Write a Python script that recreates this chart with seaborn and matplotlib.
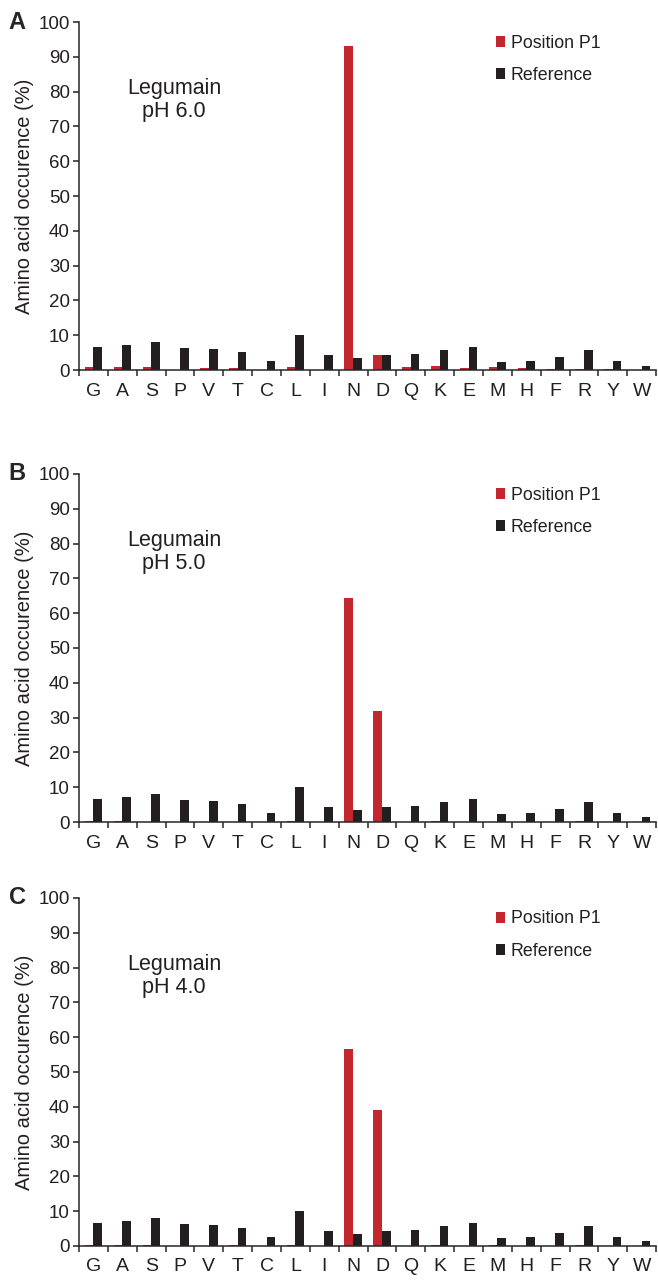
import numpy as np
import pandas as pd
import matplotlib
matplotlib.use("Agg")
import matplotlib.pyplot as plt
import seaborn as sns

# Datos (porcentaje de ocurrencia por aminoacido)
aminoacidos = ['G', 'A', 'S', 'P', 'V', 'T', 'C', 'L', 'I', 'N',
               'D', 'Q', 'K', 'E', 'M', 'H', 'F', 'R', 'Y', 'W']

referencia = [6.7, 7.1, 8.0, 6.3, 6.0, 5.3, 2.5, 10.0, 4.2, 3.4,
              4.4, 4.6, 5.7, 6.7, 2.2, 2.5, 3.7, 5.8, 2.6, 1.3]

p1_ph6 = [1.0, 0.9, 0.9, 0.0, 0.6, 0.6, 0.0, 0.8, 0.0, 93.0,
          4.4, 0.8, 1.1, 0.5, 0.8, 0.5, 0.3, 0.3, 0.2, 0.0]
p1_ph5 = [0.3, 0.3, 0.0, 0.0, 0.0, 0.0, 0.0, 0.3, 0.0, 64.3,
          31.8, 0.0, 0.2, 0.0, 0.0, 0.0, 0.0, 0.2, 0.0, 0.0]
p1_ph4 = [0.2, 0.2, 0.2, 0.0, 0.1, 0.2, 0.0, 0.2, 0.0, 56.5,
          39.1, 0.1, 0.2, 0.0, 0.2, 0.0, 0.0, 0.2, 0.0, 0.0]

paneles = ['A', 'B', 'C']
textos_ph = ['pH 6.0', 'pH 5.0', 'pH 4.0']
series_p1 = [p1_ph6, p1_ph5, p1_ph4]

rojo = '#C1272D'
negro = '#231F20'

sns.set_style("ticks")
plt.rcParams['font.family'] = ['Liberation Sans', 'DejaVu Sans']
plt.rcParams['axes.linewidth'] = 1.1

fig = plt.figure(figsize=(6.58, 12.8), dpi=100)

# posiciones de los ejes (fraccion de la figura)
bottoms = [0.7109, 0.3578, 0.0266]
izq = 0.1201
ancho = 0.877
alto = 0.2719


def dibujar_panel(i):
    ax = fig.add_axes([izq, bottoms[i], ancho, alto])
    df = pd.DataFrame({
        'aa': aminoacidos * 2,
        'valor': series_p1[i] + referencia,
        'serie': ['Position P1'] * len(aminoacidos) + ['Reference'] * len(aminoacidos),
    })
    sns.barplot(data=df, x='aa', y='valor', hue='serie', order=aminoacidos,
                palette=[rojo, negro], width=0.6, ax=ax, saturation=1,
                edgecolor='none', linewidth=0)
    ax.set_xlim(-0.5, len(aminoacidos) - 0.5)
    ax.set_ylim(0, 100)
    ax.set_yticks(np.arange(0, 101, 10))
    ax.set_xlabel("")
    ax.set_ylabel("Amino acid occurence (%)", fontsize=14.5, labelpad=3,
                  color='#231F20')
    sns.despine(ax=ax)

    # marcas del eje x entre categorias
    ax.set_xticks(np.arange(-0.5, len(aminoacidos), 1.0), minor=True)
    ax.tick_params(axis='x', which='major', length=0, pad=9, labelsize=14,
                   colors='#231F20')
    ax.tick_params(axis='x', which='minor', length=4.5, width=1.1, direction='out')
    ax.tick_params(axis='y', length=4.5, width=1.1, direction='out',
                   labelsize=13.5, pad=2, colors='#231F20')

    ax.text(0.165, 0.776, 'Legumain\n' + textos_ph[i], transform=ax.transAxes,
            ha='center', va='center', fontsize=15.5, linespacing=1.1,
            color='#231F20')

    leg = ax.legend(loc='upper left', bbox_to_anchor=(0.694, 1.01), frameon=False,
                    handlelength=0.55, handleheight=0.55, handletextpad=0.3,
                    labelspacing=0.85, fontsize=12.8)
    for t in leg.get_texts():
        t.set_color('#231F20')

    ax.text(-0.122, 1.0, paneles[i], transform=ax.transAxes, fontsize=17,
            fontweight='bold', ha='left', va='center')
    return ax


for i in range(3):
    dibujar_panel(i)

fig.savefig("out.png", dpi=100)
plt.close(fig)
